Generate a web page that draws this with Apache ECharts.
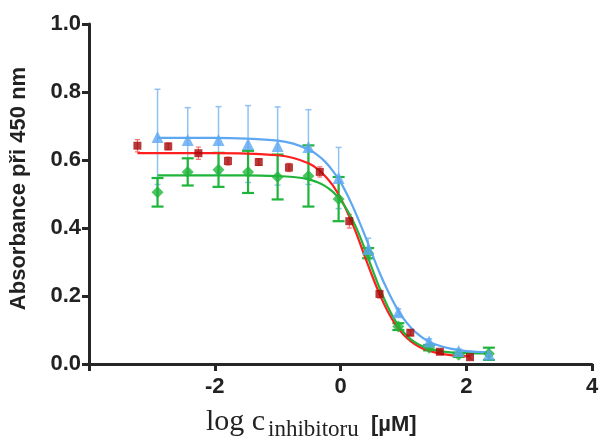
<!DOCTYPE html>
<html><head><meta charset="utf-8">
<script src="https://cdn.jsdelivr.net/npm/echarts@6/dist/echarts.min.js"></script>
<style>html,body{margin:0;padding:0;background:#fff}#c{width:609px;height:444px}</style>
</head><body><div id="c"></div>
<script>
// x positions (log c, µM)
const xBlueGreen = [-2.91,-2.43,-1.94,-1.47,-1.00,-0.51,-0.03,0.44,0.92,1.41,1.88,2.36];
const xRed = [-3.23,-2.74,-2.26,-1.79,-1.30,-0.82,-0.33,0.14,0.62,1.11,1.58,2.06];
// measured means and errors
const blueY = [0.668,0.659,0.659,0.647,0.641,0.638,0.547,0.338,0.152,0.066,0.038,0.028];
const blueErr = [0.14,0.095,0.098,0.113,0.115,0.11,0.09,0.032,0.01,0.008,0.006,0.005];
const redY = [0.642,0.640,0.620,0.597,0.594,0.578,0.565,0.420,0.206,0.092,0.036,0.020];
const redErr = [0.018,0.01,0.018,0.012,0.01,0.012,0.015,0.02,0.012,0.008,0.006,0.005];
const greenY = [0.505,0.565,0.571,0.565,0.550,0.553,0.485,0.326,0.110,0.048,0.027,0.030];
const greenErr = [0.042,0.04,0.05,0.062,0.066,0.09,0.065,0.015,0.01,0.008,0.006,0.018];
// fitted curves
const curveXBlue = [-2.91,-2.5,-2,-1.5,-1,-0.75,-0.5,-0.375,-0.25,-0.125,0,0.125,0.25,0.375,0.5,0.625,0.75,0.875,1,1.125,1.25,1.375,1.5,1.75,2,2.36];
const curveBlue = [0.665,0.665,0.665,0.663,0.657,0.648,0.630,0.616,0.596,0.569,0.535,0.491,0.440,0.384,0.325,0.267,0.216,0.171,0.134,0.106,0.085,0.069,0.058,0.045,0.038,0.034];
const curveXRed = [-3.23,-3,-2.5,-2,-1.5,-1,-0.75,-0.5,-0.375,-0.25,-0.125,0,0.125,0.25,0.375,0.5,0.625,0.75,0.875,1,1.125,1.25,1.375,1.5,1.75,2.06];
const curveRed = [0.62,0.62,0.62,0.62,0.619,0.614,0.606,0.590,0.575,0.554,0.526,0.488,0.440,0.385,0.322,0.261,0.204,0.155,0.116,0.087,0.066,0.051,0.041,0.034,0.026,0.022];
const curveXGreen = [-2.91,-2.5,-2,-1.5,-1,-0.75,-0.5,-0.375,-0.25,-0.125,0,0.125,0.25,0.375,0.5,0.625,0.75,0.875,1,1.125,1.25,1.375,1.5,1.75,2,2.36];
const curveGreen = [0.555,0.555,0.555,0.555,0.553,0.550,0.543,0.535,0.524,0.507,0.482,0.447,0.401,0.344,0.282,0.222,0.169,0.126,0.094,0.072,0.057,0.047,0.041,0.034,0.032,0.031];
const xTicks = [-4,-2,0,2,4];
const yTicks = [0,0.2,0.4,0.6,0.8,1.0];

const zip = (xs, ys) => xs.map((x,i)=>[x, ys[i]]);
const zip3 = (xs, ys, es) => xs.map((x,i)=>[x, ys[i], es[i]]);

function errSeries(name, data, color, capW, lw, z){
  return {
    type:'custom', name, z, silent:true,
    data,
    renderItem(params, api){
      const x=api.value(0), y=api.value(1), e=api.value(2);
      const t=api.coord([x,y+e]), b=api.coord([x,y-e]);
      const st={stroke:color, lineWidth:lw};
      return {type:'group', children:[
        {type:'line', shape:{x1:t[0],y1:t[1],x2:b[0],y2:b[1]}, style:st},
        {type:'line', shape:{x1:t[0]-capW/2,y1:t[1],x2:t[0]+capW/2,y2:t[1]}, style:st},
        {type:'line', shape:{x1:b[0]-capW/2,y1:b[1],x2:b[0]+capW/2,y2:b[1]}, style:st}
      ]};
    }
  };
}
function curve(data,color,z){
  return {type:'line', data, smooth:0.35, symbol:'none', z,
    lineStyle:{color, width:2.2}, silent:true};
}
function pts(data,symbol,size,color,z){
  return {type:'scatter', data, symbol, symbolSize:size, z, itemStyle:{color}, silent:true};
}

const BLUE='#5ea8f2', BLUEBAR='#8fc1f5', RED='#ff1f1f', DRED='#a50808', REDBAR='#ff6b6b', GREEN='#1fb53a';
const axisCol='#262626';
const chart = echarts.init(document.getElementById('c'));
chart.setOption({
  animation:false,
  grid:{left:89, right:17, top:24, bottom:80},
  xAxis:{type:'value', min:-4, max:4, interval:2,
    axisLine:{onZero:false, lineStyle:{color:axisCol, width:3}},
    axisTick:{show:true, length:7, lineStyle:{color:axisCol, width:3}},
    splitLine:{show:false},
    axisLabel:{margin:12, fontFamily:'Liberation Sans', fontWeight:'bold', fontSize:22, color:'#222',
      formatter:v=> (v===xTicks[0]) ? '' : String(v)}
  },
  yAxis:{type:'value', min:0, max:1, interval:0.2,
    name:'Absorbance při 450 nm', nameLocation:'middle', nameGap:59,
    nameTextStyle:{fontFamily:'Liberation Sans', fontWeight:'bold', fontSize:22, color:'#222', padding:[0,0,0,11]},
    axisLine:{show:true, onZero:false, lineStyle:{color:axisCol, width:3}},
    axisTick:{show:true, length:7, lineStyle:{color:axisCol, width:3}},
    splitLine:{show:false},
    axisLabel:{margin:8, fontFamily:'Liberation Sans', fontWeight:'bold', fontSize:22, color:'#222',
      formatter:v=>v.toFixed(1)}
  },
  graphic:[
    {type:'text', left:206, top:407, style:{text:'log c', font:'30px "Liberation Serif"', fill:'#222'}},
    {type:'text', left:268, top:418, style:{text:'inhibitoru', font:'23px "Liberation Serif"', fill:'#222'}},
    {type:'text', left:371, top:414, style:{text:'[µM]', font:'bold 22px "Liberation Sans"', fill:'#222'}}
  ],
  series:[
    errSeries('blueErr', zip3(xBlueGreen, blueY, blueErr), BLUEBAR, 6, 1.5, 2),
    errSeries('greenErr', zip3(xBlueGreen, greenY, greenErr), GREEN, 12, 2.2, 3),
    errSeries('redErr', zip3(xRed, redY, redErr), REDBAR, 5, 1.2, 3),
    curve(zip(curveXRed, curveRed), RED, 4),
    curve(zip(curveXGreen, curveGreen), GREEN, 4),
    curve(zip(curveXBlue, curveBlue), BLUE, 4),
    pts(zip(xRed, redY), 'rect', 8, DRED, 6),
    pts(zip(xBlueGreen, greenY), 'diamond', 12, GREEN, 6),
    pts(zip(xBlueGreen, blueY), 'triangle', 12, BLUE, 6)
  ]
});
</script></body></html>
